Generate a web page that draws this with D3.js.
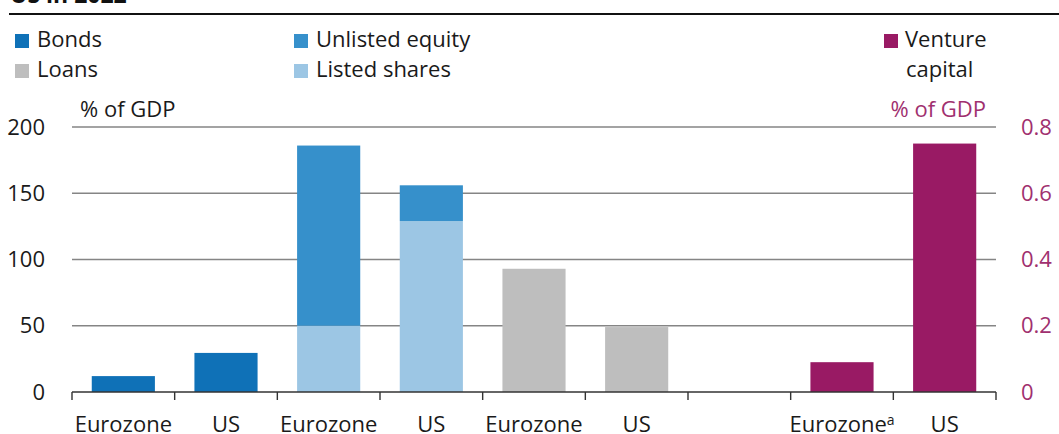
<!DOCTYPE html>
<html>
<head>
<meta charset="utf-8">
<script src="https://cdn.jsdelivr.net/npm/d3@7"></script>
<style>
  html, body { margin: 0; padding: 0; background: #fff; }
  svg { display: block; font-family: "Open Sans", sans-serif; }
</style>
</head>
<body>
<svg id="chart" width="1059" height="434"></svg>
<script>
// ---- Data ----
const categories = ["Eurozone", "US", "Eurozone", "US", "Eurozone", "US", "", "Eurozone", "US"];
const categoryKeys = ["ez_b", "us_b", "ez_e", "us_e", "ez_l", "us_l", "gap", "ez_v", "us_v"];
const categorySup = ["", "", "", "", "", "", "", "a", ""];
const bondsValues = [12, 29.5, 0, 0, 0, 0, 0, 0, 0];
const listedSharesValues = [0, 0, 50, 129, 0, 0, 0, 0, 0];
const unlistedEquityValues = [0, 0, 136, 27, 0, 0, 0, 0, 0];
const loansValues = [0, 0, 0, 0, 93, 49, 0, 0, 0];
const ventureCapitalValues = [0, 0, 0, 0, 0, 0, 0, 0.09, 0.75];
const leftTicks = [0, 50, 100, 150, 200];
const rightTicks = [0, 0.2, 0.4, 0.6, 0.8];
const rightTickLabels = ["0", "0.2", "0.4", "0.6", "0.8"];
const legendLeft = [
  { label: "Bonds", key: "bonds" },
  { label: "Loans", key: "loans" },
  { label: "Unlisted equity", key: "unlisted" },
  { label: "Listed shares", key: "listed" }
];
const colors = {
  bonds: "#0f71b7",
  unlisted: "#3690cb",
  listed: "#9cc6e4",
  loans: "#bebebe",
  vc: "#991a64"
};
const purpleText = "#a0306f";

// ---- Layout ----
const svg = d3.select("#chart");
const plotLeft = 72, plotRight = 996, plotTop = 127, plotBottom = 392;

const x = d3.scaleBand().domain(categoryKeys).range([plotLeft, plotRight])
  .paddingInner(0.385).paddingOuter(0.1925);
const yL = d3.scaleLinear().domain([0, 200]).range([plotBottom, plotTop]);
const yR = d3.scaleLinear().domain([0, 0.8]).range([plotBottom, plotTop]);

// Title (cut off at top)
svg.append("text").attr("x", 10).attr("y", 3)
  .attr("font-size", 23).attr("font-weight", "bold").attr("fill", "#111")
  .text("US in 2022");

// top rule
svg.append("line").attr("x1", 9).attr("x2", 1059).attr("y1", 14).attr("y2", 14)
  .attr("stroke", "#111").attr("stroke-width", 2);

// Legend
const fs = 22;
function legendItem(xs, ys, color, label) {
  svg.append("rect").attr("x", xs).attr("y", ys - 13).attr("width", 14).attr("height", 14).attr("fill", color);
  svg.append("text").attr("x", xs + 22).attr("y", ys).attr("font-size", fs).attr("fill", "#1a1a1a").text(label);
}
legendItem(15, 47, colors.bonds, legendLeft[0].label);
legendItem(15, 77, colors.loans, legendLeft[1].label);
legendItem(294, 47, colors.unlisted, legendLeft[2].label);
legendItem(294, 77, colors.listed, legendLeft[3].label);
svg.append("rect").attr("x", 884).attr("y", 34).attr("width", 14).attr("height", 14).attr("fill", colors.vc);
svg.append("text").attr("x", 905).attr("y", 47).attr("font-size", fs).attr("fill", "#1a1a1a").text("Venture");
svg.append("text").attr("x", 906).attr("y", 77).attr("font-size", fs).attr("fill", "#1a1a1a").text("capital");

// Axis titles
svg.append("text").attr("x", 80).attr("y", 117).attr("font-size", fs).attr("fill", "#1a1a1a").text("% of GDP");
svg.append("text").attr("x", 986).attr("y", 117).attr("font-size", fs).attr("fill", purpleText)
  .attr("text-anchor", "end").text("% of GDP");

// Gridlines
svg.append("g").selectAll("line").data(leftTicks.filter(d => d > 0)).join("line")
  .attr("x1", plotLeft).attr("x2", plotRight)
  .attr("y1", d => yL(d)).attr("y2", d => yL(d))
  .attr("stroke", "#858585").attr("stroke-width", 1.5);

// Left tick labels
svg.append("g").selectAll("text").data(leftTicks).join("text")
  .attr("x", 45).attr("y", d => yL(d)).attr("dy", "0.35em")
  .attr("text-anchor", "end").attr("font-size", fs).attr("fill", "#1a1a1a")
  .text(d => d);

// Right tick labels
svg.append("g").selectAll("text").data(rightTicks).join("text")
  .attr("x", 1021).attr("y", d => yR(d)).attr("dy", "0.35em")
  .attr("text-anchor", "start").attr("font-size", fs).attr("fill", purpleText)
  .text((d, i) => rightTickLabels[i]);

// Bars
const bars = svg.append("g");
function addBars(values, color, baseValues, scale) {
  bars.selectAll(null).data(categoryKeys.map((k, i) => ({ k, v: values[i], b: baseValues ? baseValues[i] : 0 })).filter(d => d.v > 0))
    .join("rect")
    .attr("x", d => x(d.k)).attr("width", x.bandwidth())
    .attr("y", d => scale(d.b + d.v))
    .attr("height", d => scale(d.b) - scale(d.b + d.v))
    .attr("fill", color);
}
addBars(bondsValues, colors.bonds, null, yL);
addBars(listedSharesValues, colors.listed, null, yL);
addBars(unlistedEquityValues, colors.unlisted, listedSharesValues, yL);
addBars(loansValues, colors.loans, null, yL);
addBars(ventureCapitalValues, colors.vc, null, yR);

// Baseline axis with ticks at band boundaries
const xAxisG = svg.append("g");
xAxisG.append("line").attr("x1", plotLeft).attr("x2", plotRight)
  .attr("y1", plotBottom).attr("y2", plotBottom).attr("stroke", "#333").attr("stroke-width", 1.6);
const boundaries = categoryKeys.map(k => x(k) - x.step() * x.paddingInner() / 2).concat([plotRight]);
boundaries[0] = plotLeft;
xAxisG.selectAll("line.tick").data(boundaries).join("line").attr("class", "tick")
  .attr("x1", d => d).attr("x2", d => d).attr("y1", plotBottom).attr("y2", plotBottom + 8)
  .attr("stroke", "#333").attr("stroke-width", 1.4);

// Category labels
const labels = xAxisG.selectAll("text.cat").data(categoryKeys.map((k, i) => ({ k, name: categories[i], sup: categorySup[i] })))
  .join("text").attr("class", "cat")
  .attr("x", d => x(d.k) + x.bandwidth() / 2).attr("y", 432)
  .attr("text-anchor", "middle").attr("font-size", fs).attr("fill", "#1a1a1a");
labels.append("tspan").text(d => d.name);
labels.filter(d => d.sup).append("tspan").attr("font-size", 14).attr("dy", -7).text(d => d.sup);
</script>
</body>
</html>
